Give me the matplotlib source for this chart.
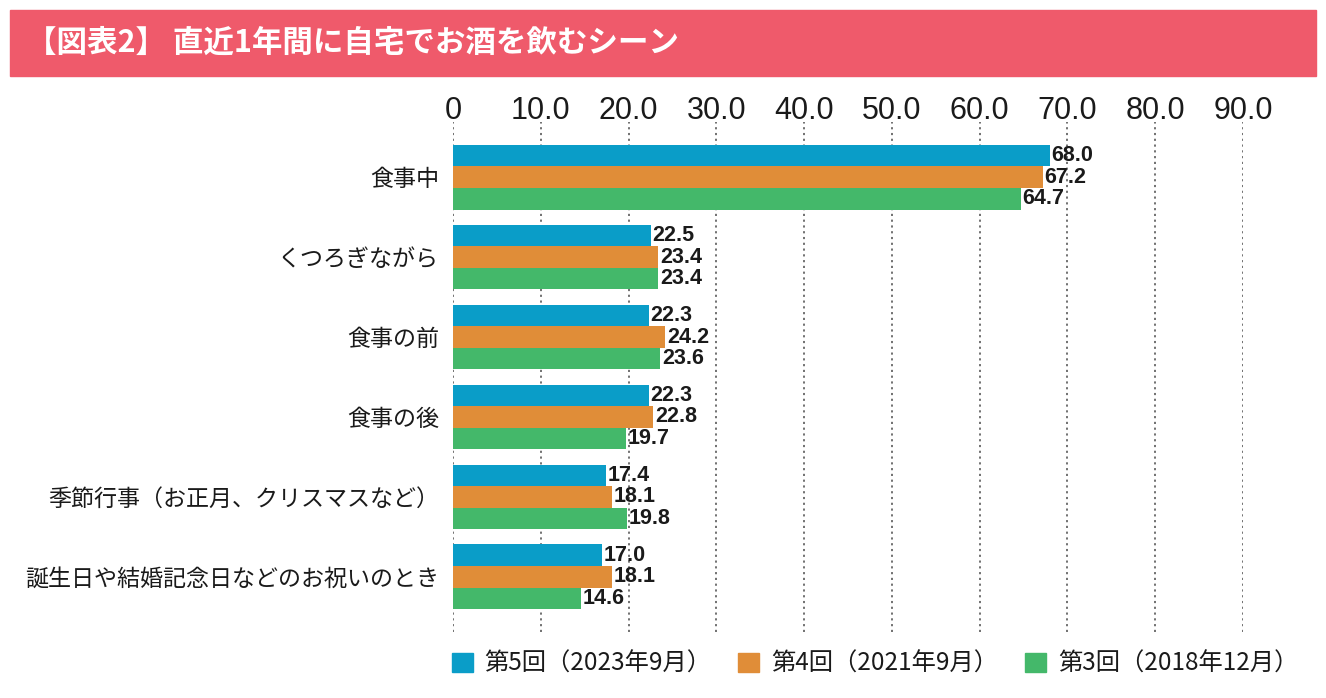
import matplotlib.pyplot as plt
from matplotlib.patches import Patch, Rectangle
import numpy as np

plt.rcParams['font.family'] = ['Noto Sans CJK JP', 'DejaVu Sans']

categories = ['食事中', 'くつろぎながら', '食事の前', '食事の後',
              '季節行事（お正月、クリスマスなど）', '誕生日や結婚記念日などのお祝いのとき']
series_names = ['第5回（2023年9月）', '第4回（2021年9月）', '第3回（2018年12月）']
v5 = [68.0, 22.5, 22.3, 22.3, 17.4, 17.0]
v4 = [67.2, 23.4, 24.2, 22.8, 18.1, 18.1]
v3 = [64.7, 23.4, 23.6, 19.7, 19.8, 14.6]
colors = ['#0A9DC8', '#E08D38', '#44B86A']
xticks = [0, 10, 20, 30, 40, 50, 60, 70, 80, 90]
xticklabels = ['0', '10.0', '20.0', '30.0', '40.0', '50.0', '60.0', '70.0', '80.0', '90.0']

W, H = 1326, 698
fig = plt.figure(figsize=(W / 100, H / 100), dpi=100)

# title banner
fig.patches.append(Rectangle((10 / W, 1 - 76 / H), 1306 / W, 66 / H,
                             transform=fig.transFigure, color='#EF5A6B', zorder=0))
fig.text(26 / W, 1 - 43 / H, '【図表2】 直近1年間に自宅でお酒を飲むシーン',
         color='white', fontsize=22, fontweight='bold', va='center', ha='left')

ax = fig.add_axes([453 / W, 1 - 632 / H, (1243 - 453) / W, (632 - 122) / H])
y = np.arange(len(categories))
h = 0.27
for i, vals in enumerate([v5, v4, v3]):
    bars = ax.barh(y + (i - 1) * h, vals, height=h, color=colors[i], zorder=2)
    for b, v in zip(bars, vals):
        ax.text(b.get_width() + 0.2, b.get_y() + b.get_height() / 2, f'{v:.1f}',
                va='center', ha='left', fontsize=15.5, fontweight='bold',
                color='#1a1a1a', family=['Liberation Sans', 'DejaVu Sans'], zorder=3)

ax.set_xlim(0, 90)
ax.set_ylim(len(categories) - 1 + 0.69, -0.69)
ax.set_xticks(xticks)
ax.set_xticklabels(xticklabels, family=['Liberation Sans', 'DejaVu Sans'], fontsize=22,
                   color='#1a1a1a')
ax.xaxis.tick_top()
ax.tick_params(axis='x', length=0, pad=-3)
ax.set_yticks(y)
ax.set_yticklabels(categories, fontsize=16.6, color='#1a1a1a')
ax.tick_params(axis='y', length=0, pad=10)
for s in ax.spines.values():
    s.set_visible(False)
ax.grid(axis='x', linestyle=(0, (1.2, 2.0)), color='#666666', linewidth=1.3, zorder=1)

handles = [Patch(color=c) for c in colors]
fig.legend(handles, series_names, loc='center left', ncol=3,
           bbox_to_anchor=(430 / W, 1 - 664 / H), frameon=False, fontsize=17.5,
           handlelength=0.85, handleheight=0.85, handletextpad=0.5, columnspacing=1.1,
           borderpad=0.4, labelcolor='#1a1a1a')

fig.savefig('out.png', dpi=100)
